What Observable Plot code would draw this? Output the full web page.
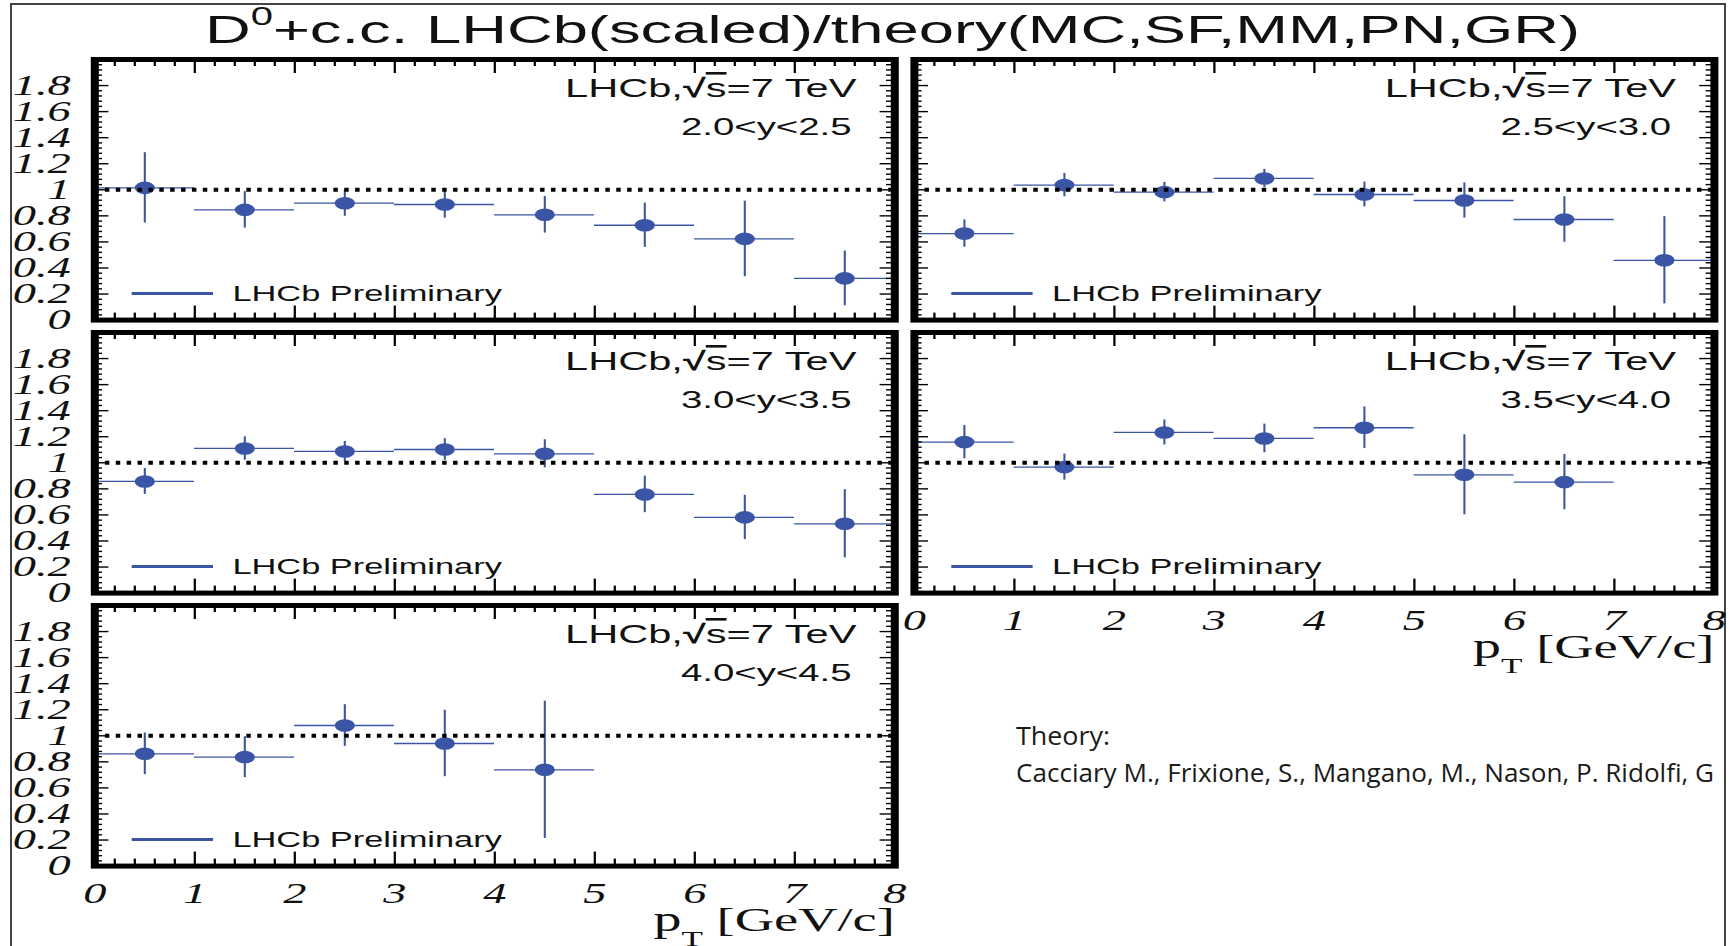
<!DOCTYPE html>
<html>
<head>
<meta charset="utf-8">
<script src="https://cdn.jsdelivr.net/npm/d3@7"></script>
<script src="https://cdn.jsdelivr.net/npm/@observablehq/plot@0.6"></script>
<style>
  html, body { margin: 0; padding: 0; background: #fff; }
  #page { position: relative; width: 1731px; height: 946px; overflow: hidden; background: #fff; }
  #border { position: absolute; left: 10px; top: 3px; width: 1716px; height: 980px; border: 2px solid #444; box-sizing: border-box; }
  /* the ROOT canvas is stretched horizontally on the slide */
  #canvas { position: absolute; left: 0; top: 0; width: 1081.875px; height: 946px; transform: scaleX(1.6); transform-origin: 0 0; }
  #title { position: absolute; left: 0; top: 10px; width: 1115.6px; text-align: center; white-space: nowrap;
           font-family: "Liberation Sans", Arial, sans-serif; font-size: 39.6px; line-height: 1; color: #111; }
  #title .sup { font-size: 25px; line-height: 0; vertical-align: 18px; }
  .panel { position: absolute; }
  #theory { position: absolute; left: 0; top: 0; pointer-events: none; }
</style>
</head>
<body>
<div id="page">
  <div id="border"></div>
  <div id="canvas">
    <div id="title">D<span class="sup">0</span>+c.c. LHCb(scaled)/theory(MC,SF,MM,PN,GR)</div>
  </div>
  <svg id="theory" width="1731" height="946">
    <text x="1016" y="745" font-family="Open Sans" font-size="25" fill="#1a1a1a" textLength="94" lengthAdjust="spacingAndGlyphs">Theory:</text>
    <text x="1016" y="782" font-family="Open Sans" font-size="25" fill="#1a1a1a" textLength="698" lengthAdjust="spacingAndGlyphs">Cacciary M., Frixione, S., Mangano, M., Nason, P. Ridolfi, G</text>
  </svg>
</div>
<script>
// pT bins [GeV/c]
const ptLow  = [0, 1, 2, 3, 4, 5, 6, 7];
const ptHigh = [1, 2, 3, 4, 5, 6, 7, 8];

// rapidity bins
const yBins = ["2.0<y<2.5", "2.5<y<3.0", "3.0<y<3.5", "3.5<y<4.0", "4.0<y<4.5"];

// LHCb(scaled)/theory ratio and its uncertainty, per rapidity bin
const ratio_y20 = [1.015, 0.846, 0.897, 0.887, 0.808, 0.728, 0.623, 0.320];
const error_y20 = [0.270, 0.140, 0.100, 0.105, 0.140, 0.170, 0.290, 0.210];
const ratio_y25 = [0.664, 1.036, 0.982, 1.087, 0.964, 0.918, 0.772, 0.459];
const error_y25 = [0.105, 0.090, 0.075, 0.070, 0.095, 0.135, 0.175, 0.335];
const ratio_y30 = [0.857, 1.110, 1.087, 1.102, 1.069, 0.757, 0.581, 0.532];
const error_y30 = [0.100, 0.090, 0.077, 0.083, 0.108, 0.140, 0.170, 0.262];
const ratio_y35 = [1.159, 0.967, 1.233, 1.187, 1.269, 0.908, 0.852];
const error_y35 = [0.128, 0.100, 0.096, 0.110, 0.160, 0.307, 0.212];
const ratio_y40 = [0.862, 0.836, 1.079, 0.941, 0.739];
const error_y40 = [0.160, 0.157, 0.160, 0.255, 0.527];

// axis tick values
const xMajor = d3.range(0, 9);
const xMinor = d3.range(1, 40).filter(i => i % 5).map(i => i / 5);
const yMajor = d3.range(0, 11).map(i => i / 5);
const yMinor = d3.range(1, 50).filter(i => i % 5).map(i => i / 25);
const yLabelTicks = d3.range(0, 10).map(i => i / 5);

// layout (in unstretched canvas units)
const S = 1.6;
const colLeft = [94 / S, 913 / S];
const rowTop = [58.7, 332, 604.7];
const frameW = 800 / S;
const frameH = 260.6;
const blue = "#3a55a6";
const ink = "#111";
const SVGNS = "http://www.w3.org/2000/svg";

const panels = [
  {bin: yBins[0], ratio: ratio_y20, error: error_y20, col: 0, row: 0, xAxis: false, yAxis: true},
  {bin: yBins[1], ratio: ratio_y25, error: error_y25, col: 1, row: 0, xAxis: false, yAxis: false},
  {bin: yBins[2], ratio: ratio_y30, error: error_y30, col: 0, row: 1, xAxis: false, yAxis: true},
  {bin: yBins[3], ratio: ratio_y35, error: error_y35, col: 1, row: 1, xAxis: true,  yAxis: false},
  {bin: yBins[4], ratio: ratio_y40, error: error_y40, col: 0, row: 2, xAxis: true,  yAxis: true}
];

// replace a plain text node by styled pieces
function richText(t, parts) {
  t.textContent = "";
  for (const [str, attrs] of parts) {
    const ts = document.createElementNS(SVGNS, "tspan");
    ts.textContent = str;
    for (const [k, v] of Object.entries(attrs || {})) ts.setAttribute(k, v);
    t.appendChild(ts);
  }
}

const canvas = document.getElementById("canvas");

for (const p of panels) {
  const data = p.ratio.map((v, i) => ({
    lo: ptLow[i], hi: ptHigh[i], mid: (ptLow[i] + ptHigh[i]) / 2, v, e: p.error[i]
  }));

  const mL = p.yAxis ? colLeft[0] : 12, mR = 14, mT = 12, mB = 96;
  const W = mL + frameW + mR, H = mT + frameH + mB;
  const yPx = 2 / frameH;   // y units per pixel
  const xPx = 8 / frameW;   // x units per pixel

  const marks = [
    // measurement: bin width, uncertainty and central value
    Plot.ruleY(data, {y: "v", x1: "lo", x2: "hi", stroke: blue, strokeWidth: 1.3}),
    Plot.ruleX(data, {x: "mid", y1: d => d.v - d.e, y2: d => d.v + d.e, stroke: blue, strokeWidth: 1.3}),
    Plot.dot(data, {x: "mid", y: "v", r: 6.3, fill: blue, stroke: null}),
    // unity reference
    Plot.ruleY([1], {stroke: "black", strokeWidth: 4, strokeDasharray: "2.8,4"}),
    // legend
    Plot.ruleY([0.205], {x1: 0.377, x2: 1.19, stroke: blue, strokeWidth: 3}),
    Plot.text(["LHCb Preliminary"], {frameAnchor: "bottom-left", dx: 86, dy: -19.4, lineAnchor: "bottom", textAnchor: "start",
      fontFamily: "Liberation Sans", fontSize: 21.5, fill: ink}),
    // labels
    Plot.text(["LHCb,√s=7 TeV"], {frameAnchor: "top-right", dx: -24, dy: 38, lineAnchor: "bottom", textAnchor: "end",
      fontFamily: "Liberation Sans", fontSize: 26, fill: ink}),
    Plot.text([p.bin], {frameAnchor: "top-right", dx: -27, dy: 76, lineAnchor: "bottom", textAnchor: "end",
      fontFamily: "Liberation Sans", fontSize: 24, fill: ink}),
    // inward ticks on all four sides
    Plot.ruleX(xMajor, {x: d => d, y1: 0, y2: 14 * yPx, stroke: "black", strokeWidth: 1.4}),
    Plot.ruleX(xMinor, {x: d => d, y1: 0, y2: 7 * yPx, stroke: "black", strokeWidth: 1.4}),
    Plot.ruleX(xMajor, {x: d => d, y1: 2, y2: 2 - 14 * yPx, stroke: "black", strokeWidth: 1.4}),
    Plot.ruleX(xMinor, {x: d => d, y1: 2, y2: 2 - 7 * yPx, stroke: "black", strokeWidth: 1.4}),
    Plot.ruleY(yMajor, {y: d => d, x1: 0, x2: 9 * xPx, stroke: "black", strokeWidth: 1.4}),
    Plot.ruleY(yMinor, {y: d => d, x1: 0, x2: 5 * xPx, stroke: "black", strokeWidth: 1.4}),
    Plot.ruleY(yMajor, {y: d => d, x1: 8, x2: 8 - 9 * xPx, stroke: "black", strokeWidth: 1.4}),
    Plot.ruleY(yMinor, {y: d => d, x1: 8, x2: 8 - 5 * xPx, stroke: "black", strokeWidth: 1.4}),
    Plot.frame({stroke: "black", strokeWidth: 5})
  ];

  if (p.yAxis) {
    marks.push(Plot.axisY({ticks: yLabelTicks, tickSize: 0, tickPadding: 15, label: null,
      tickFormat: d => String(Math.round(d * 10) / 10),
      fontFamily: "Liberation Serif", fontStyle: "italic", fontSize: 29}));
  }
  if (p.xAxis) {
    marks.push(Plot.axisX({ticks: xMajor, tickSize: 0, tickPadding: 16, label: null,
      tickFormat: d => String(d),
      fontFamily: "Liberation Serif", fontStyle: "italic", fontSize: 29}));
    // axis title p_T [GeV/c]
    marks.push(Plot.text(["pT [GeV/c]"], {frameAnchor: "bottom-right", dx: 0, dy: 65, lineAnchor: "bottom", textAnchor: "end",
      fontFamily: "Liberation Serif", fontSize: 34, fill: ink}));
  }

  const svg = Plot.plot({
    width: W, height: H,
    marginLeft: mL, marginRight: mR, marginTop: mT, marginBottom: mB,
    x: p.xAxis ? {domain: [0, 8]} : {domain: [0, 8], axis: null},
    y: p.yAxis ? {domain: [0, 2]} : {domain: [0, 2], axis: null},
    style: {background: "transparent", overflow: "visible", color: ink, maxWidth: "none", fontFamily: "Liberation Sans"},
    marks
  });

  svg.querySelectorAll("text").forEach(t => {
    if (t.textContent === "LHCb,√s=7 TeV") {
      richText(t, [["LHCb,"], ["√", {"font-weight": "bold"}], ["s", {"style": "text-decoration:overline"}], ["=7 TeV"]]);
    } else if (t.textContent === "pT [GeV/c]") {
      richText(t, [["p", {"font-size": 35}], ["T", {"font-size": 22, "dy": 15}], ["\u00a0[GeV/c]", {"dy": -15}]]);
    }
  });

  const holder = document.createElement("div");
  holder.className = "panel";
  holder.style.left = (colLeft[p.col] - mL) + "px";
  holder.style.top = (rowTop[p.row] - mT) + "px";
  holder.style.width = W + "px";
  holder.style.height = H + "px";
  holder.appendChild(svg);
  canvas.appendChild(holder);
}
</script>
</body>
</html>
